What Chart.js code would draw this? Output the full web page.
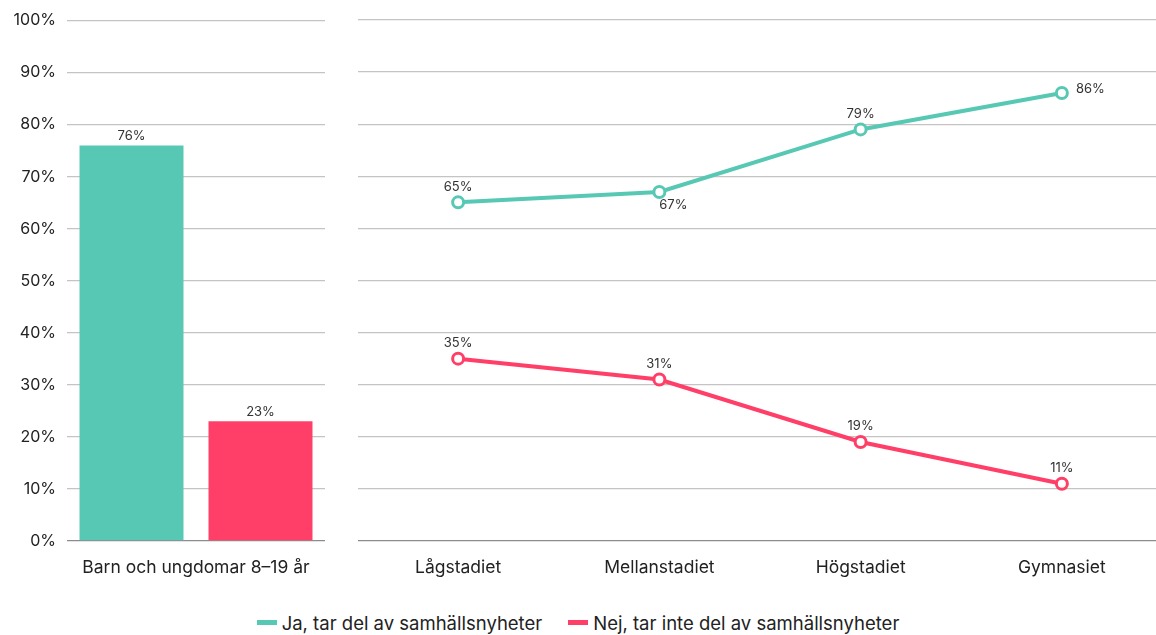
<!DOCTYPE html>
<html>
<head>
<meta charset="utf-8">
<script src="https://cdn.jsdelivr.net/npm/chart.js@4.4.1/dist/chart.umd.min.js"></script>
<style>
  html, body { margin: 0; background: #fff; width: 1156px; height: 635px; overflow: hidden; }
  body { position: relative; font-family: Inter, "Noto Sans", sans-serif; }
  #barChart { position: absolute; left: 0; top: 0; }
  #lineChart { position: absolute; left: 340px; top: 0; }
  #legend { position: absolute; left: 0; top: 612px; width: 1156px; text-align: center; font-size: 18.5px; color: #222; white-space: nowrap; }
  #legend span.item { display: inline-block; margin: 0 13px; }
  #legend span.sw { display: inline-block; width: 20px; height: 5px; vertical-align: middle; margin-right: 5px; position: relative; top: -2px; }
</style>
</head>
<body>
<canvas id="barChart" width="340" height="590"></canvas>
<canvas id="lineChart" width="831" height="590"></canvas>
<div id="legend"></div>
<script>
// data
const seriesNames = ['Ja, tar del av samhällsnyheter', 'Nej, tar inte del av samhällsnyheter'];
const seriesColors = ['#57c8b4', '#ff3f68'];

const totalLabel = ['Barn och ungdomar 8–19 år'];
const totalJa = [76];
const totalNej = [23];

const stages = ['Lågstadiet', 'Mellanstadiet', 'Högstadiet', 'Gymnasiet'];
const stageJa = [65, 67, 79, 86];
const stageNej = [35, 31, 19, 11];

// where each value label goes relative to its point
const jaLabelPos = ['above', 'belowRight', 'above', 'right'];
const nejLabelPos = ['above', 'above', 'above', 'above'];

const gridColor = '#c4c4c4';
const baseColor = '#8c8c8c';
const textColor = '#222';
const fontFamily = 'Inter, "Noto Sans", sans-serif';

// small plugin for value labels
const valueLabels = {
  id: 'valueLabels',
  afterDatasetsDraw(chart) {
    const ctx = chart.ctx;
    ctx.save();
    ctx.font = '13px ' + fontFamily;
    ctx.fillStyle = '#333';
    chart.data.datasets.forEach((ds, di) => {
      const meta = chart.getDatasetMeta(di);
      meta.data.forEach((el, i) => {
        const txt = ds.data[i] + '%';
        const pos = ds.labelPos ? ds.labelPos[i] : 'above';
        let x = el.x, y = el.y;
        if (pos === 'above') {
          ctx.textAlign = 'center'; ctx.textBaseline = 'bottom';
          y -= chart.config.type === 'bar' ? 3 : 9;
        } else if (pos === 'right') {
          ctx.textAlign = 'left'; ctx.textBaseline = 'middle';
          x += 14; y -= 4;
        } else if (pos === 'belowRight') {
          ctx.textAlign = 'center'; ctx.textBaseline = 'top';
          x += 14; y += 7;
        }
        ctx.fillText(txt, x, y);
      });
    });
    ctx.restore();
  }
};

const yGrid = {
  drawTicks: false,
  lineWidth: 1.3,
  color: c => c.tick.value === 0 ? baseColor : gridColor
};

new Chart(document.getElementById('barChart'), {
  type: 'bar',
  data: {
    labels: totalLabel,
    datasets: [
      { label: seriesNames[0], data: totalJa, backgroundColor: seriesColors[0], barPercentage: 0.806, categoryPercentage: 1.0 },
      { label: seriesNames[1], data: totalNej, backgroundColor: seriesColors[1], barPercentage: 0.806, categoryPercentage: 1.0 }
    ]
  },
  options: {
    responsive: false,
    animation: false,
    layout: { padding: { top: 12, right: 15, left: 0, bottom: 4 } },
    plugins: { legend: { display: false }, tooltip: { enabled: false } },
    scales: {
      x: {
        border: { display: false },
        grid: { display: false },
        ticks: { color: textColor, font: { size: 17.5, family: fontFamily }, padding: 8 }
      },
      y: {
        min: 0,
        max: 100,
        border: { display: false },
        grid: yGrid,
        ticks: {
          stepSize: 10,
          padding: 11,
          color: textColor,
          font: { size: 16, family: fontFamily },
          callback: v => v + '%'
        },
        afterFit: s => { s.width = 67; }
      }
    }
  },
  plugins: [valueLabels]
});

new Chart(document.getElementById('lineChart'), {
  type: 'line',
  data: {
    labels: stages,
    datasets: [
      { label: seriesNames[0], data: stageJa, labelPos: jaLabelPos, borderColor: seriesColors[0], backgroundColor: '#fff',
        borderWidth: 4, pointRadius: 5.5, pointBorderWidth: 3, pointBackgroundColor: '#fff', pointBorderColor: seriesColors[0] },
      { label: seriesNames[1], data: stageNej, labelPos: nejLabelPos, borderColor: seriesColors[1], backgroundColor: '#fff',
        borderWidth: 4, pointRadius: 5.5, pointBorderWidth: 3, pointBackgroundColor: '#fff', pointBorderColor: seriesColors[1] }
    ]
  },
  options: {
    responsive: false,
    animation: false,
    layout: { padding: { top: 20, right: 0, left: 17.5, bottom: 4 } },
    plugins: { legend: { display: false }, tooltip: { enabled: false } },
    scales: {
      x: {
        offset: true,
        border: { display: false },
        grid: { display: false },
        ticks: { color: textColor, font: { size: 17.5, family: fontFamily }, padding: 8 }
      },
      y: {
        min: 0,
        max: 100,
        border: { display: false },
        grid: yGrid,
        ticks: { stepSize: 10, display: false }
      }
    }
  },
  plugins: [valueLabels]
});

// legend
const legend = document.getElementById('legend');
seriesNames.forEach((name, i) => {
  const item = document.createElement('span');
  item.className = 'item';
  const sw = document.createElement('span');
  sw.className = 'sw';
  sw.style.background = seriesColors[i];
  item.appendChild(sw);
  item.appendChild(document.createTextNode(name));
  legend.appendChild(item);
});
</script>
</body>
</html>
